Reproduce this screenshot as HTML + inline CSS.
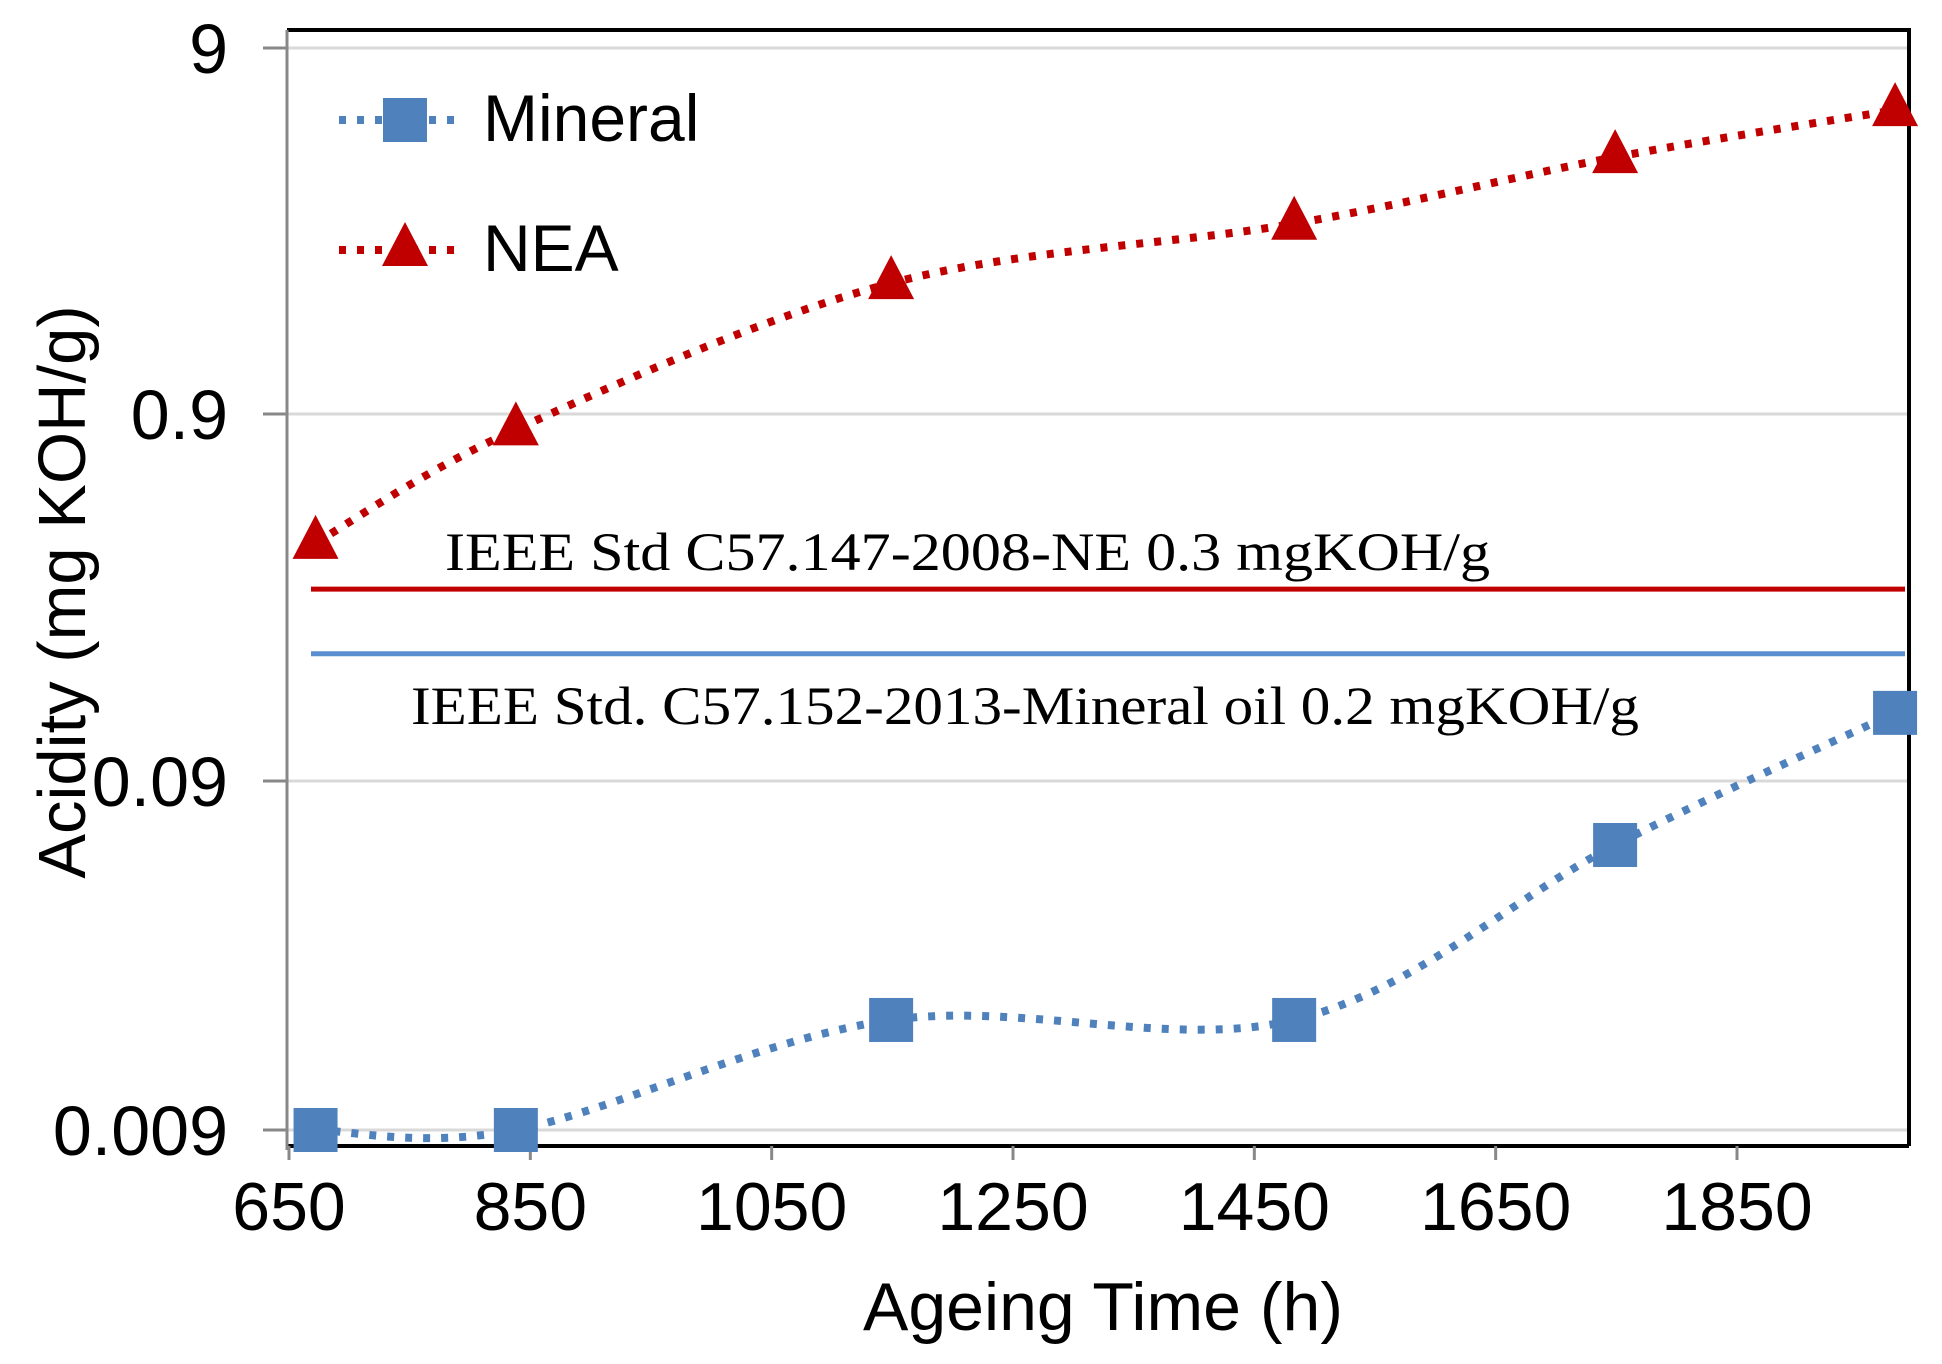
<!DOCTYPE html>
<html><head><meta charset="utf-8"><style>
html,body{margin:0;padding:0;background:#fff;}
svg{display:block;}
text{font-family:"Liberation Sans",Arial,sans-serif;}
</style></head><body>
<svg id="chart" width="1942" height="1364" viewBox="0 0 1942 1364" xmlns="http://www.w3.org/2000/svg"></svg>
<script>
const hours = [672, 838, 1149, 1483, 1749, 1981];
const mineralValues = [0.0090, 0.0090, 0.0186, 0.0186, 0.0590, 0.138];
const neaValues = [0.401, 0.817, 2.05, 2.98, 4.53, 6.09];
const xTicks = [650, 850, 1050, 1250, 1450, 1650, 1850];
const yTicks = [0.009, 0.09, 0.9, 9];
const yTickLabels = ["0.009", "0.09", "0.9", "9"];
const neLimit = 0.3;
const mineralLimit = 0.2;

const NS = "http://www.w3.org/2000/svg";
const svg = document.getElementById('chart');
const L = 287, R = 1909, T = 30, B = 1146;
function xs(v){ return 289 + (v - 650) * (1448 / 1200); }
function ys(v){
  const lv = Math.log10(v);
  const stops = [[Math.log10(9), 48], [Math.log10(0.9), 414], [Math.log10(0.09), 781], [Math.log10(0.009), 1130]];
  for (let i = 0; i < stops.length - 1; i++){
    const a = stops[i], b = stops[i+1];
    if (lv >= b[0] || i === stops.length - 2){
      return a[1] + (a[0] - lv) / (a[0] - b[0]) * (b[1] - a[1]);
    }
  }
}
function mk(tag, attrs, parent){
  const e = document.createElementNS(NS, tag);
  for (const k in attrs) e.setAttribute(k, attrs[k]);
  (parent || svg).appendChild(e);
  return e;
}
yTicks.forEach((t, i) => {
  const g = mk('line', {x1: L, x2: R, y1: ys(t), y2: ys(t), stroke: '#d9d9d9', 'stroke-width': 3});
  
  
  const tk = mk('line', {x1: 263, x2: L, y1: ys(t), y2: ys(t), stroke: '#888', 'stroke-width': 3});
  
  
  const lb = mk('text', {x: 228, y: ys(t) + 25, 'text-anchor': 'end', 'font-size': 70, fill: '#000'});
  lb.textContent = yTickLabels[i];
  
  
});
const fr = mk('path', {d: `M${L},${T} H${R} V${B}`, fill: 'none', stroke: '#000', 'stroke-width': 4});


const xa = mk('line', {x1: L, x2: R, y1: B, y2: B, stroke: '#000', 'stroke-width': 4});


const ya = mk('line', {x1: L, x2: L, y1: T, y2: B + 4, stroke: '#888', 'stroke-width': 3});


xTicks.forEach(t => {
  const tk = mk('line', {x1: xs(t), x2: xs(t), y1: B, y2: B + 14, stroke: '#888', 'stroke-width': 3});
  
  
  const lb = mk('text', {x: xs(t), y: 1230, 'text-anchor': 'middle', 'font-size': 68, fill: '#000'});
  lb.textContent = t;
  
  
});
const xt = mk('text', {x: 1103, y: 1330, 'text-anchor': 'middle', 'font-size': 68, fill: '#000'});
xt.textContent = 'Ageing Time (h)';


const yt = mk('text', {x: 0, y: 0, 'text-anchor': 'middle', 'font-size': 67, fill: '#000', transform: 'translate(85,592) rotate(-90)'});
yt.textContent = 'Acidity (mg KOH/g)';


const rl = mk('line', {x1: 311, x2: 1905, y1: ys(neLimit), y2: ys(neLimit), stroke: '#C00000', 'stroke-width': 5});


const bl = mk('line', {x1: 311, x2: 1905, y1: ys(mineralLimit), y2: ys(mineralLimit), stroke: '#5B8FD0', 'stroke-width': 5});


const rt = mk('text', {x: 445, y: 570, 'font-size': 54, fill: '#000', style: 'font-family:"Liberation Serif",serif', textLength: 1045, lengthAdjust: 'spacingAndGlyphs'});
rt.textContent = 'IEEE Std C57.147-2008-NE 0.3 mgKOH/g';


const btx = mk('text', {x: 411, y: 724, 'font-size': 54, fill: '#000', style: 'font-family:"Liberation Serif",serif', textLength: 1228, lengthAdjust: 'spacingAndGlyphs'});
btx.textContent = 'IEEE Std. C57.152-2013-Mineral oil 0.2 mgKOH/g';


function smooth(pts){
  let d = `M${pts[0][0]},${pts[0][1]}`;
  for (let i = 0; i < pts.length - 1; i++){
    const p0 = pts[i-1] || pts[i], p1 = pts[i], p2 = pts[i+1], p3 = pts[i+2] || p2;
    const c1 = [p1[0] + (p2[0]-p0[0])/6, p1[1] + (p2[1]-p0[1])/6];
    const c2 = [p2[0] - (p3[0]-p1[0])/6, p2[1] - (p3[1]-p1[1])/6];
    d += ` C${c1[0]},${c1[1]} ${c2[0]},${c2[1]} ${p2[0]},${p2[1]}`;
  }
  return d;
}
function series(vals, color, name, marker){
  const pts = hours.map((h, i) => [xs(h), ys(vals[i])]);
  const p = mk('path', {d: smooth(pts), fill: 'none', stroke: color, 'stroke-width': 8, 'stroke-dasharray': '7 11'});
  
  
  pts.forEach(([x, y]) => {
    let m;
    if (marker === 'square') m = mk('rect', {x: x - 22, y: y - 22, width: 44, height: 44, fill: color});
    else m = mk('polygon', {points: `${x},${y-28} ${x+23},${y+16} ${x-23},${y+16}`, fill: color});
    
    
  });
}
series(mineralValues, '#4F81BD', 'mineral', 'square');
series(neaValues, '#C00000', 'nea', 'triangle');
const lg = mk('g', {});


const l1 = mk('line', {x1: 339, x2: 461, y1: 120, y2: 120, stroke: '#4F81BD', 'stroke-width': 8, 'stroke-dasharray': '7 11'}, lg);


const m1 = mk('rect', {x: 383, y: 98, width: 44, height: 44, fill: '#4F81BD'}, lg);


const t1 = mk('text', {x: 483, y: 141, 'font-size': 66, fill: '#000'}, lg);
t1.textContent = 'Mineral';


const l2 = mk('line', {x1: 339, x2: 461, y1: 250, y2: 250, stroke: '#C00000', 'stroke-width': 8, 'stroke-dasharray': '7 11'}, lg);


const m2 = mk('polygon', {points: '405,222 428,266 382,266', fill: '#C00000'}, lg);


const t2 = mk('text', {x: 483, y: 271, 'font-size': 66, fill: '#000'}, lg);
t2.textContent = 'NEA';


</script>
</body></html>
